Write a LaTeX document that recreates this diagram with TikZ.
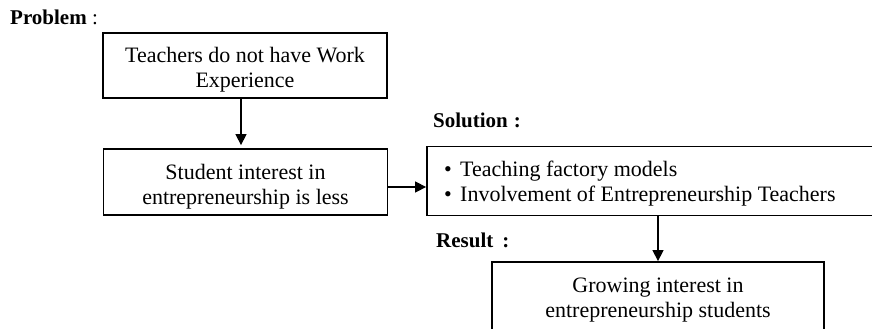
\documentclass[tikz,border=0pt]{standalone}
\usepackage{fontspec}
\setmainfont{Liberation Serif}
\usetikzlibrary{arrows.meta}
\tikzset{
  box/.style={draw, line width=1.8pt, inner sep=0pt},
  txt/.style={inner sep=0pt, font=\fontsize{22}{25}\selectfont, align=center},
  lbl/.style={inner sep=0pt, anchor=base west, font=\fontsize{21}{24}\selectfont\bfseries},
  arr/.style={line width=1.4pt, -{Triangle[width=11pt,length=11pt]}}
}
\begin{document}
\begin{tikzpicture}[x=1pt,y=-1pt]
\path[use as bounding box, clip] (0,0) rectangle (872,329);
% labels
\node[lbl] (lp) at (10,25) {Problem \mdseries:};
\node[lbl] (ls) at (433,127) {Solution\hspace{6pt}:};
\node[lbl] (lr) at (436,247) {Result\hspace{9pt}:};
% boxes
\node[box, minimum width=284pt, minimum height=65pt] (b1) at (245,65.5) {};
\node[box, minimum width=284pt, minimum height=66pt] (b2) at (245.5,182) {};
\node[box, minimum width=473pt, minimum height=69pt] (b3) at (663.5,181) {};
\node[box, minimum width=332pt, minimum height=83pt] (b4) at (658,303.5) {};
% texts
\node[txt] (t1) at (245,70.5) {\strut Teachers do not have Work\\\strut Experience};
\node[txt] (t2) at (245.5,186.5) {\strut Student interest in\\\strut entrepreneurship is less};
\node[txt, align=left, anchor=west] (t3) at (444,184.2) {\strut\makebox[16pt][l]{\textbullet}Teaching factory models\\\strut\makebox[16pt][l]{\textbullet}Involvement of Entrepreneurship Teachers};
\node[txt] (t4) at (658,299.5) {\strut Growing interest in\\\strut entrepreneurship students};
% connectors
\coordinate (xa) at (241,0);
\coordinate (yh) at (0,187);
\draw[arr, shorten >=3pt] (b1.south -| xa) -- (b2.north -| xa);
\draw[arr] (b2.east |- yh) -- (b3.west |- yh);
\draw[arr] (b3.south -| b4.north) -- (b4.north);
\end{tikzpicture}
\end{document}
